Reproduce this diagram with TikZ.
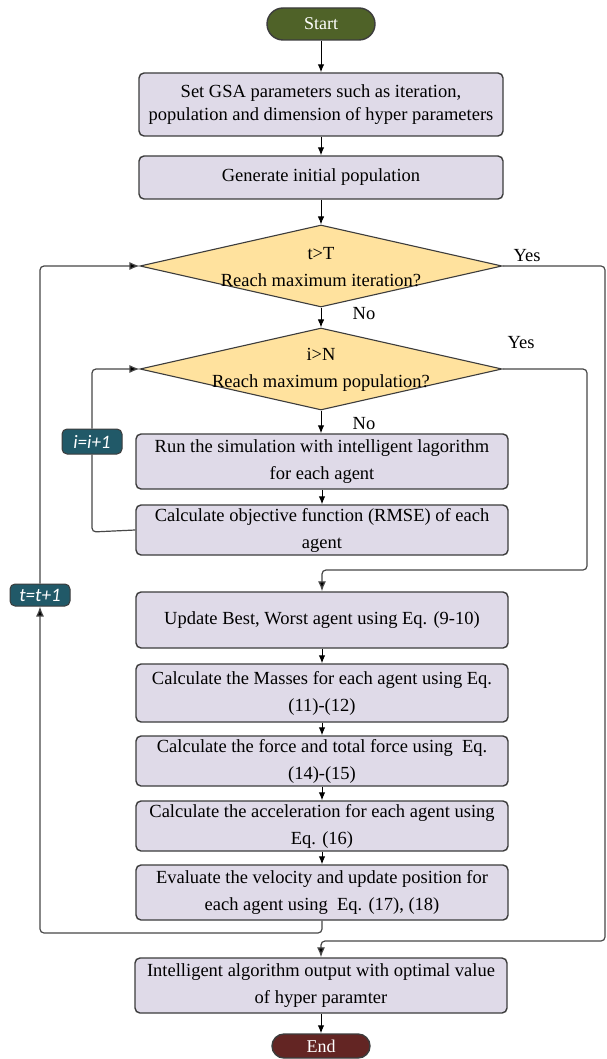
\documentclass[tikz,border=0pt]{standalone}
\usepackage{fontspec}
\setmainfont{Liberation Serif}
\newfontfamily\labfont{Carlito}
\usetikzlibrary{shapes.geometric,arrows.meta}
\definecolor{boxfill}{HTML}{DFDAE8}
\definecolor{boxdraw}{HTML}{3C3C3C}
\definecolor{decfill}{HTML}{FFE29E}
\definecolor{startfill}{HTML}{4F6228}
\definecolor{endfill}{HTML}{632523}
\definecolor{tealfill}{HTML}{215968}
\definecolor{loopline}{HTML}{484848}
\begin{document}
\begin{tikzpicture}[x=1pt,y=-1pt,
  proc/.style={draw=boxdraw, line width=1.4pt, fill=boxfill, rounded corners=5pt,
    minimum width=372pt, inner sep=0pt, align=center, font=\fontsize{18.5}{27}\selectfont},
  dec/.style={draw=boxdraw, line width=1.1pt, fill=decfill, diamond, inner sep=0pt,
    minimum width=362pt, minimum height=82pt},
  dectext/.style={align=center, inner sep=0pt, font=\fontsize{18.5}{27}\selectfont},
  term/.style={draw=boxdraw, line width=1.4pt, text=white, inner sep=0pt,
    font=\fontsize{18}{20}\selectfont},
  inc/.style={draw=boxdraw, line width=1pt, fill=tealfill, text=white, rounded corners=5pt,
    inner sep=0pt, minimum width=60pt, font=\labfont\itshape\fontsize{19}{21}\selectfont},
  lab/.style={inner sep=0pt, font=\fontsize{18.5}{20}\selectfont},
  arr/.style={-{Latex[length=8pt,width=6.5pt]}, line width=1pt, draw=black},
  loopl/.style={line width=1.2pt, draw=loopline, rounded corners=4pt},
  looparr/.style={loopl, -{Latex[length=10pt,width=8pt,fill=black]}}
]
\fill[white] (0,0) rectangle (606,1059);
\useasboundingbox (0,0) rectangle (606,1059);

% nodes
\node[term, fill=startfill, rounded corners=16pt, minimum width=108pt, minimum height=32pt] (start) at (321,24) {Start};
\node[proc, minimum width=364pt, minimum height=63pt, font=\fontsize{18.5}{23}\selectfont] (b1) at (321,104.5)
  {Set GSA parameters such as iteration,\\ population and dimension of hyper parameters};
\node[proc, minimum width=364pt, minimum height=43pt] (b2) at (321,177.5) {Generate initial population};
\node[dec] (d1) at (321,266) {};
\node[dectext] (d1t) at (321,267) {t>T\\ Reach maximum iteration?};
\node[dec] (d2) at (321,369) {};
\node[dectext] (d2t) at (321,370) {i>N\\ Reach maximum population?};
\node[proc, minimum height=55pt] (run) at (322,461.5) {Run the simulation with intelligent lagorithm\\ for each agent};
\node[proc, minimum height=50pt] (calc) at (322,530) {Calculate objective function (RMSE) of each\\ agent};
\node[proc, minimum height=56pt] (upd) at (322,620) {Update Best, Worst agent using Eq. (9-10)};
\node[proc, minimum height=58pt] (mass) at (322,693) {Calculate the Masses for each agent using Eq.\\ (11)-(12)};
\node[proc, minimum height=50pt] (force) at (322,761) {Calculate the force and total force using\ \ Eq.\\ (14)-(15)};
\node[proc, minimum height=50pt] (acc) at (322,826) {Calculate the acceleration for each agent using\\ Eq. (16)};
\node[proc, minimum height=55pt] (eval) at (322,892.5) {Evaluate the velocity and update position for\\ each agent using\ \ Eq. (17), (18)};
\node[proc, minimum height=55pt] (fin) at (321,985.5) {Intelligent algorithm output with optimal value\\ of hyper paramter};
\node[term, fill=endfill, rounded corners=12pt, minimum width=98pt, minimum height=24pt] (end) at (321,1046) {End};

\node[inc, minimum height=25pt] (inci) at (92,441.5) {i=i+1};
\node[inc, minimum height=22pt] (inct) at (40,595) {t=t+1};

% labels
\node[lab] (yes1) at (527,256) {Yes};
\node[lab] (yes2) at (521,343) {Yes};
\node[lab] (no1) at (364,314) {No};
\node[lab] (no2) at (364,424) {No};

% main flow
\draw[arr] (start) -- (b1);
\draw[arr] (b1) -- (b2);
\draw[arr] (b2.south) -- (b2.south |- d1.north);
\draw[arr] (d1.south) -- (d2.north);
\draw[arr] (d2.south) -- (d2.south |- run.north);
\draw[arr] (run) -- (calc);
\draw[arr] (upd) -- (mass);
\draw[arr] (mass) -- (force);
\draw[arr] (force) -- (acc);
\draw[arr] (acc) -- (eval);
\draw[arr] (fin.south) -- (fin.south |- end.north);

% yes branches
\coordinate (y1a) at (605,266);
\coordinate (y1b) at (605,941);
\coordinate (y1c) at (321,941);
\draw[looparr] (d1.east) -- (y1a) -- (y1b) -- (y1c) -- (fin.north);
\coordinate (y2a) at (587,369);
\coordinate (y2b) at (587,570);
\coordinate (y2c) at (322,570);
\draw[looparr] (d2.east) -- (y2a) -- (y2b) -- (y2c) -- (upd.north);

% inner loop
\coordinate (l1a) at (92,532);
\coordinate (l1b) at (92,369);
\draw[loopl] (calc.west) -- (l1a) -- (inci.south);
\draw[looparr] (inci.north) -- (l1b) -- (d2.west);

% outer loop
\coordinate (l2a) at (322,933);
\coordinate (l2b) at (40,933);
\coordinate (l2c) at (40,266);
\draw[looparr] (eval.south) -- (l2a) -- (l2b) -- (inct.south);
\draw[looparr] (inct.north) -- (l2c) -- (d1.west);
\end{tikzpicture}
\end{document}
